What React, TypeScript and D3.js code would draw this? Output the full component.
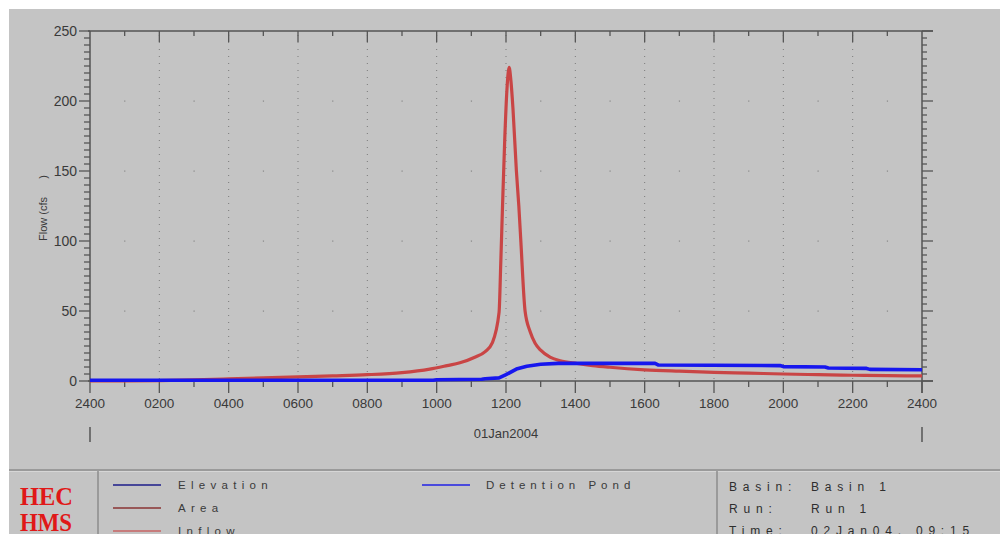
import React, { useEffect, useRef } from 'react';
import * as d3 from 'd3';

// hydrograph for the Detention Pond element, 01Jan2004 run

const timeTicks = ['2400', '0200', '0400', '0600', '0800', '1000', '1200', '1400', '1600', '1800', '2000', '2200', '2400'];
const flowTicks = [0, 50, 100, 150, 200, 250];

// hours after midnight and flow (cfs)
const inflowHours = [0, 1, 2, 3, 4, 5, 6, 7, 8, 9, 9.8, 10.3, 10.67, 11.1, 11.4, 11.6, 11.8, 11.85, 11.9, 11.96, 12.02, 12.09, 12.14, 12.2, 12.3, 12.37, 12.43, 12.55, 12.7, 12.84, 13.0, 13.27, 13.56, 14.05, 14.5, 15, 16, 17, 18, 19, 20, 21, 22, 23, 24];
const inflowFlow = [0, 0.1, 0.3, 0.8, 1.5, 2.2, 3.0, 3.7, 4.5, 6.0, 8.5, 11, 13, 17, 21, 27, 49, 85, 125, 170, 205, 224, 215, 195, 150, 125, 99, 50, 35, 27, 22, 17, 14.5, 12.5, 11, 9.8, 8, 7, 6.2, 5.6, 5, 4.5, 4.1, 3.8, 3.6];

const pondHours = [0, 9.9, 10, 11.3, 11.4, 11.8, 12.0, 12.3, 12.6, 13.0, 13.5, 16.3, 16.4, 19.9, 20.0, 21.2, 21.3, 22.4, 22.5, 24];
const pondFlow = [0.5, 0.5, 0.9, 1.2, 1.6, 2.2, 4.5, 8.5, 10.5, 12.0, 12.6, 12.6, 11.4, 11.0, 10.3, 10.0, 9.3, 9.0, 8.3, 8.0];

const legendLeft = [
  { name: 'Elevation', color: '#1c1c8a' },
  { name: 'Area', color: '#8a3434' },
  { name: 'Inflow', color: '#c96464' }
];
const legendMid = [{ name: 'Detention Pond', color: '#2222e6' }];
const infoLabels = ['Basin:', 'Run:', 'Time:'];
const infoValues = ['Basin 1', 'Run 1', '02Jan04, 09:15'];

const W = 1000;
const H = 534;
const plot = { left: 90, right: 922, top: 31, bottom: 381 };
const font = 'Arial, "Liberation Sans", sans-serif';
const ink = '#3a3a3a';
const axisInk = '#555';

export default function App() {
  const svgRef = useRef<SVGSVGElement>(null);

  useEffect(() => {
    const svg = d3.select(svgRef.current);
    svg.selectAll('*').remove();

    const x = d3.scaleLinear().domain([0, 24]).range([plot.left, plot.right]);
    const y = d3.scaleLinear().domain([0, 250]).range([plot.bottom, plot.top]);

    // background, white edge at top/left
    svg.append('rect').attr('width', W).attr('height', H).attr('fill', '#fff');
    svg.append('rect').attr('x', 9).attr('y', 9).attr('width', W - 9).attr('height', H - 9).attr('fill', '#c4c4c4');

    const majorHours = d3.range(0, 25, 2);
    const allHours = d3.range(0, 25, 1);
    const minorFlow = d3.range(0, 251, 5);

    // dotted grid at the even hours
    svg.append('g')
      .selectAll('line')
      .data(majorHours.slice(1, -1))
      .enter()
      .append('line')
      .attr('x1', d => x(d)).attr('x2', d => x(d))
      .attr('y1', plot.top + 4).attr('y2', plot.bottom)
      .attr('stroke', '#7a7a7a')
      .attr('stroke-width', 1)
      .attr('stroke-dasharray', '1,6');

    // dots where odd hours meet major flow values
    const dots: [number, number][] = [];
    allHours.filter(h => h % 2 === 1).forEach(h => flowTicks.slice(1, -1).forEach(f => dots.push([h, f])));
    svg.append('g')
      .selectAll('rect')
      .data(dots)
      .enter()
      .append('rect')
      .attr('x', d => x(d[0]) - 0.5)
      .attr('y', d => y(d[1]) - 0.5)
      .attr('width', 1.2).attr('height', 1.2)
      .attr('fill', '#888');

    // frame
    const frame = svg.append('g').attr('stroke', axisInk).attr('stroke-width', 1.5);
    frame.append('line').attr('x1', plot.left - 2).attr('x2', plot.right + 11).attr('y1', plot.top).attr('y2', plot.top);
    frame.append('line').attr('x1', plot.left - 2).attr('x2', plot.right + 11).attr('y1', plot.bottom).attr('y2', plot.bottom);
    frame.append('line').attr('x1', plot.left).attr('x2', plot.left).attr('y1', plot.top).attr('y2', plot.bottom);
    frame.append('line').attr('x1', plot.right).attr('x2', plot.right).attr('y1', plot.top).attr('y2', plot.bottom + 12);

    // hour ticks, top (inside) and bottom (outside)
    const ticks = svg.append('g').attr('stroke', axisInk).attr('stroke-width', 1.3);
    ticks.selectAll('.top')
      .data(allHours.slice(1, -1))
      .enter()
      .append('line')
      .attr('x1', d => x(d)).attr('x2', d => x(d))
      .attr('y1', plot.top).attr('y2', d => plot.top + (d % 2 === 0 ? 11 : 5));
    ticks.selectAll('.bot')
      .data(allHours)
      .enter()
      .append('line')
      .attr('x1', d => x(d)).attr('x2', d => x(d))
      .attr('y1', plot.bottom).attr('y2', d => plot.bottom + (d % 2 === 0 ? 12 : 6));

    // flow ticks on both sides
    ticks.selectAll('.left')
      .data(minorFlow)
      .enter()
      .append('line')
      .attr('y1', d => y(d)).attr('y2', d => y(d))
      .attr('x1', d => plot.left - (d % 50 === 0 ? 11 : 6)).attr('x2', plot.left);
    ticks.selectAll('.right')
      .data(minorFlow)
      .enter()
      .append('line')
      .attr('y1', d => y(d)).attr('y2', d => y(d))
      .attr('x1', plot.right).attr('x2', d => plot.right + (d % 50 === 0 ? 11 : 5));

    // tick labels
    svg.append('g')
      .selectAll('text')
      .data(timeTicks)
      .enter()
      .append('text')
      .attr('x', (d, i) => x(majorHours[i]))
      .attr('y', 408)
      .attr('text-anchor', 'middle')
      .attr('font-family', font)
      .attr('font-size', 13.5)
      .attr('fill', ink)
      .text(d => d);

    svg.append('g')
      .selectAll('text')
      .data(flowTicks)
      .enter()
      .append('text')
      .attr('x', 77)
      .attr('y', d => y(d) + 5)
      .attr('text-anchor', 'end')
      .attr('font-family', font)
      .attr('font-size', 14)
      .attr('fill', ink)
      .text(d => d);

    svg.append('text')
      .attr('transform', 'translate(47, 241) rotate(-90)')
      .attr('font-family', font)
      .attr('font-size', 11)
      .attr('fill', ink)
      .style('white-space', 'pre')
      .text('Flow (cfs      )');

    svg.append('text')
      .attr('x', 506).attr('y', 438)
      .attr('text-anchor', 'middle')
      .attr('font-family', font)
      .attr('font-size', 13)
      .attr('fill', ink)
      .text('01Jan2004');

    [0, 24].forEach(h => {
      svg.append('line')
        .attr('x1', x(h)).attr('x2', x(h))
        .attr('y1', 427).attr('y2', 442)
        .attr('stroke', '#444').attr('stroke-width', 1.3);
    });

    // series
    const lineGen = d3.line<[number, number]>()
      .x(d => x(d[0]))
      .y(d => y(d[1]));

    svg.append('path')
      .datum(inflowHours.map((h, i) => [h, inflowFlow[i]] as [number, number]))
      .attr('fill', 'none')
      .attr('stroke', '#c94545')
      .attr('stroke-width', 3.2)
      .attr('stroke-linejoin', 'round')
      .attr('d', lineGen.curve(d3.curveMonotoneX));

    svg.append('path')
      .datum(pondHours.map((h, i) => [h, pondFlow[i]] as [number, number]))
      .attr('fill', 'none')
      .attr('stroke', '#1717ee')
      .attr('stroke-width', 3.6)
      .attr('stroke-linejoin', 'round')
      .attr('d', lineGen.curve(d3.curveLinear));

    // legend panel
    svg.append('line').attr('x1', 9).attr('x2', W).attr('y1', 470).attr('y2', 470)
      .attr('stroke', '#8c8c8c').attr('stroke-width', 1.5);
    svg.append('line').attr('x1', 9).attr('x2', W).attr('y1', 471.5).attr('y2', 471.5)
      .attr('stroke', '#d6d6d6').attr('stroke-width', 1);
    [98, 717].forEach(px => {
      svg.append('line').attr('x1', px).attr('x2', px).attr('y1', 471).attr('y2', H)
        .attr('stroke', '#8c8c8c').attr('stroke-width', 1.5);
    });

    const logo = svg.append('g')
      .attr('font-family', '"Liberation Serif", "Times New Roman", serif')
      .attr('font-weight', 'bold')
      .attr('font-size', 26)
      .attr('fill', '#e01818');
    logo.append('text').attr('x', 20).attr('y', 505).attr('textLength', 53).attr('lengthAdjust', 'spacingAndGlyphs').text('HEC');
    logo.append('text').attr('x', 20).attr('y', 531).attr('textLength', 52).attr('lengthAdjust', 'spacingAndGlyphs').text('HMS');

    const legendRows = [485, 508, 531];
    const leg = svg.append('g');
    leg.selectAll('line')
      .data(legendLeft)
      .enter()
      .append('line')
      .attr('x1', 113).attr('x2', 161)
      .attr('y1', (d, i) => legendRows[i]).attr('y2', (d, i) => legendRows[i])
      .attr('stroke', d => d.color).attr('stroke-width', 1.6);
    leg.selectAll('text')
      .data(legendLeft)
      .enter()
      .append('text')
      .attr('x', 178)
      .attr('y', (d, i) => legendRows[i] + 4)
      .attr('font-family', font)
      .attr('font-size', 11.5)
      .attr('letter-spacing', 5.3)
      .attr('fill', ink)
      .text(d => d.name);

    legendMid.forEach((d, i) => {
      svg.append('line')
        .attr('x1', 422).attr('x2', 470)
        .attr('y1', legendRows[i]).attr('y2', legendRows[i])
        .attr('stroke', d.color).attr('stroke-width', 1.6);
      svg.append('text')
        .attr('x', 486).attr('y', legendRows[i] + 4)
        .attr('font-family', font)
        .attr('font-size', 11.5)
        .attr('letter-spacing', 5)
        .attr('fill', ink)
        .text(d.name);
    });

    const infoRows = [491, 513, 535];
    infoLabels.forEach((lab, i) => {
      svg.append('text')
        .attr('x', 729).attr('y', infoRows[i])
        .attr('font-family', font).attr('font-size', 12).attr('letter-spacing', 5.8)
        .attr('fill', '#2e2e2e')
        .text(lab);
      svg.append('text')
        .attr('x', 811).attr('y', infoRows[i])
        .attr('font-family', font).attr('font-size', 12).attr('letter-spacing', 5.8)
        .attr('fill', '#2e2e2e')
        .style('white-space', 'pre')
        .text(infoValues[i]);
    });
  }, []);

  return (
    <svg
      ref={svgRef}
      width={W}
      height={H}
      style={{ position: 'absolute', left: 0, top: 0, display: 'block' }}
    />
  );
}
